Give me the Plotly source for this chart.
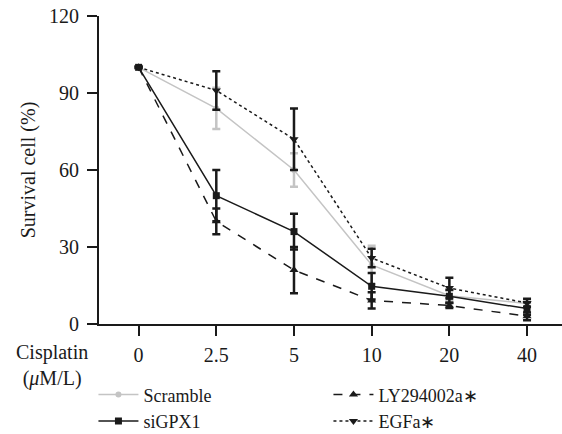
import plotly.graph_objects as go

# Cisplatin dose groups (uM/L) and survival data (%)
doses = ["0", "2.5", "5", "10", "20", "40"]
positions = [0, 1, 2, 3, 4, 5]

scramble = [100, 84, 60, 23, 11, 8]
scramble_err = [0, 8, 6.5, 7.5, 2, 1]

sigpx1 = [100, 50, 36, 14.7, 10.8, 6]
sigpx1_err = [0, 10, 7, 5.2, 2.5, 2.5]

ly294002 = [100, 40, 21, 9.2, 7.2, 3]
ly294002_err = [0, 5, 9, 3.2, 1, 1.5]

egfa = [100, 91, 72, 25.7, 14, 8.2]
egfa_err = [0, 7.5, 12, 3.6, 4, 1.6]

y_ticks = [0, 30, 60, 90, 120]

FONT = "Liberation Serif"
GRAY = "#c4c4c4"
BLACK = "#1a1a1a"


def series(name, y, err, color, dash, symbol, msize, rank, lw=1.5):
    return go.Scatter(
        x=positions, y=y, name=name, mode="lines+markers",
        line=dict(color=color, width=lw, dash=dash),
        marker=dict(symbol=symbol, size=msize, color=color),
        error_y=dict(type="data", array=err, visible=True,
                     color=color, thickness=2.5, width=4),
        legendrank=rank,
    )


fig = go.Figure()
fig.add_trace(series("Scramble", scramble, scramble_err, GRAY, "solid", "circle", 6, 1))
fig.add_trace(series("siGPX1", sigpx1, sigpx1_err, BLACK, "solid", "square", 7, 3))
fig.add_trace(series("LY294002a∗", ly294002, ly294002_err, BLACK, "dash", "triangle-up", 8, 2))
fig.add_trace(series("EGFa∗", egfa, egfa_err, BLACK, "dot", "triangle-down", 8, 4))

fig.update_layout(
    width=562, height=434,
    margin=dict(l=99, r=0, t=16, b=110, autoexpand=False),
    paper_bgcolor="white", plot_bgcolor="white",
    font=dict(family=FONT, size=20, color=BLACK),
    showlegend=True,
    legend=dict(
        orientation="h", x=-0.012, y=-0.17, xanchor="left", yanchor="top",
        entrywidth=180, entrywidthmode="pixels",
        font=dict(family=FONT, size=18, color=BLACK),
        tracegroupgap=0, itemwidth=40, bgcolor="rgba(0,0,0,0)",
    ),
    xaxis=dict(
        range=[-0.51, 5.45], tickmode="array", tickvals=positions, ticktext=doses,
        showline=True, linecolor=BLACK, linewidth=2, showgrid=False, zeroline=False,
        ticks="outside", ticklen=10, tickwidth=2, tickcolor=BLACK,
        ticklabelstandoff=2,
        tickfont=dict(family=FONT, size=20, color=BLACK),
    ),
    yaxis=dict(
        range=[0, 120], tickmode="array", tickvals=y_ticks,
        showline=True, linecolor=BLACK, linewidth=2, showgrid=False, zeroline=False,
        ticks="outside", ticklen=10, tickwidth=2, tickcolor=BLACK,
        ticklabelstandoff=4,
        tickfont=dict(family=FONT, size=20, color=BLACK),
        title=dict(text="Survival cell (%)", standoff=8,
                   font=dict(family=FONT, size=20, color=BLACK)),
    ),
    annotations=[dict(
        text="Cisplatin<br>(<i>μ</i>M/L)", xref="paper", yref="paper",
        x=-0.1015, y=-0.135, xanchor="center", yanchor="middle",
        showarrow=False, font=dict(family=FONT, size=20, color=BLACK),
    )],
)

fig.write_html("out.html")
